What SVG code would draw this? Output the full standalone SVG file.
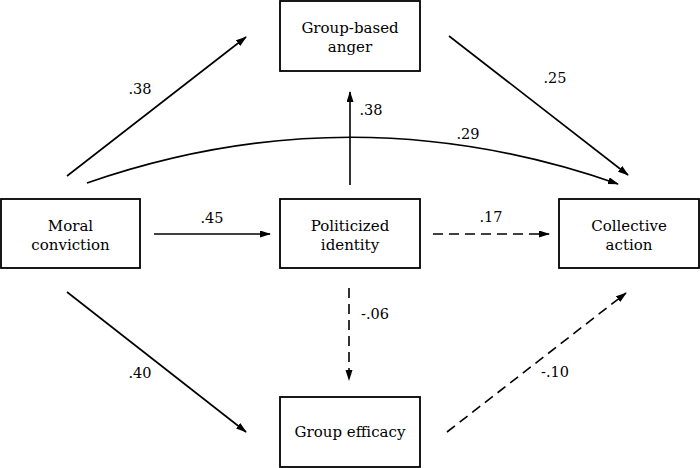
<svg xmlns="http://www.w3.org/2000/svg" width="700" height="468" viewBox="0 0 700 468">
<style>
.box{fill:#fff;stroke:#000;stroke-width:1.8}
.t{font-family:'DejaVu Serif',serif;font-size:15px;fill:#000;text-anchor:middle}
.l{font-family:'DejaVu Serif',serif;font-size:14.5px;fill:#000;text-anchor:middle}
.c{fill:none;stroke:#000;stroke-width:1.6;marker-end:url(#ah)}
.d{stroke-dasharray:10 6}
</style>
<defs>
<marker id="ah" markerUnits="userSpaceOnUse" markerWidth="11" markerHeight="8" refX="10" refY="3.5" orient="auto">
<path d="M0,0 L11,3.5 L0,7 z" fill="#000"/>
</marker>
</defs>
<rect width="700" height="468" fill="#fff"/>
<g id="connectors">
<line class="c" x1="67" y1="176" x2="246" y2="37"/>
<line class="c" x1="449" y1="36" x2="628" y2="175"/>
<line class="c" x1="350" y1="185" x2="350" y2="92"/>
<path class="c" d="M87,183 Q352,91 618,184"/>
<line class="c" x1="154" y1="234" x2="270" y2="234"/>
<line class="c d" x1="433" y1="234" x2="549" y2="234"/>
<line class="c d" x1="349" y1="288" x2="349" y2="380"/>
<line class="c" x1="67" y1="292" x2="246" y2="432"/>
<line class="c d" x1="447" y1="432" x2="626" y2="293"/>
<text class="l" x="140" y="94">.38</text>
<text class="l" x="555" y="83">.25</text>
<text class="l" x="371" y="115">.38</text>
<text class="l" x="468" y="139">.29</text>
<text class="l" x="212" y="223">.45</text>
<text class="l" x="491" y="222">.17</text>
<text class="l" x="375" y="319">-.06</text>
<text class="l" x="140" y="378">.40</text>
<text class="l" x="555" y="377">-.10</text>
</g>
<g id="anger">
<rect class="box" x="280" y="1" width="140" height="70"/>
<text class="t" x="350" y="33">Group-based</text>
<text class="t" x="350" y="52">anger</text>
</g>
<g id="moral">
<rect class="box" x="1" y="199" width="139" height="69"/>
<text class="t" x="70.5" y="231">Moral</text>
<text class="t" x="70.5" y="250">conviction</text>
</g>
<g id="politicized">
<rect class="box" x="280" y="199" width="140" height="69"/>
<text class="t" x="350" y="231">Politicized</text>
<text class="t" x="350" y="250">identity</text>
</g>
<g id="collective">
<rect class="box" x="559" y="199" width="140" height="69"/>
<text class="t" x="629" y="231">Collective</text>
<text class="t" x="629" y="250">action</text>
</g>
<g id="efficacy">
<rect class="box" x="280" y="397" width="140" height="70"/>
<text class="t" x="350" y="437">Group efficacy</text>
</g>
</svg>
